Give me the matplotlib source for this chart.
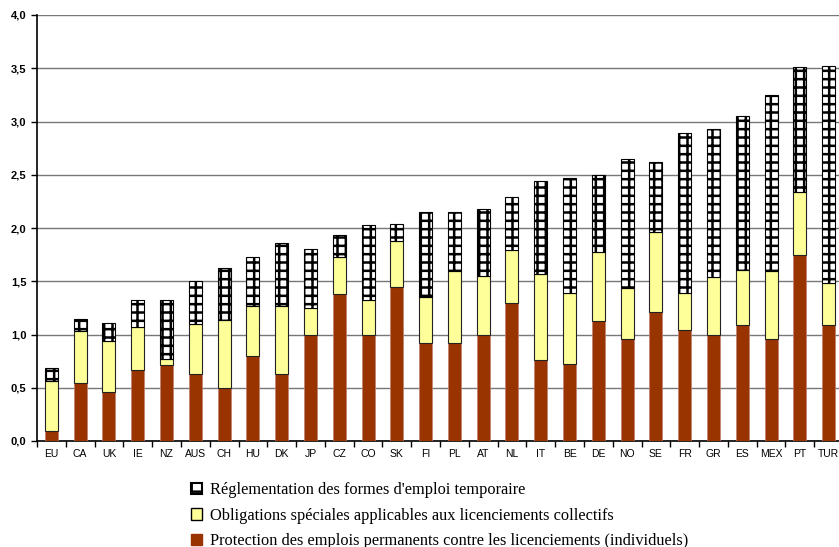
import numpy as np
import matplotlib
matplotlib.use("Agg")
import matplotlib.pyplot as plt
from matplotlib.patches import Patch
from matplotlib.ticker import FuncFormatter, MultipleLocator

# data
pays = ["EU", "CA", "UK", "IE", "NZ", "AUS", "CH", "HU", "DK", "JP", "CZ", "CO", "SK", "FI",
        "PL", "AT", "NL", "IT", "BE", "DE", "NO", "SE", "FR", "GR", "ES", "MEX", "PT", "TUR"]
# protection des emplois permanents (individuels)
permanents = [0.09, 0.54, 0.46, 0.67, 0.71, 0.63, 0.50, 0.80, 0.63, 1.00, 1.38, 1.00, 1.45, 0.92,
              0.92, 1.00, 1.30, 0.76, 0.72, 1.13, 0.96, 1.21, 1.04, 1.00, 1.09, 0.96, 1.75, 1.09]
# cumulative top of the collective-dismissal part
cumul_collectifs = [0.56, 1.03, 0.94, 1.07, 0.77, 1.10, 1.14, 1.27, 1.27, 1.25, 1.73, 1.32, 1.88, 1.35,
                    1.60, 1.55, 1.79, 1.57, 1.39, 1.77, 1.44, 1.96, 1.39, 1.54, 1.61, 1.60, 2.34, 1.48]
# total (top of the bar)
total = [0.69, 1.15, 1.11, 1.32, 1.32, 1.50, 1.62, 1.73, 1.86, 1.80, 1.93, 2.03, 2.04, 2.15,
         2.15, 2.18, 2.29, 2.44, 2.47, 2.50, 2.65, 2.62, 2.89, 2.93, 3.05, 3.25, 3.51, 3.52]

collectifs = np.array(cumul_collectifs) - np.array(permanents)
temporaire = np.array(total) - np.array(cumul_collectifs)

rouge = "#993300"
jaune = "#FFFF99"

plt.rcParams["hatch.linewidth"] = 1.8

fig = plt.figure(figsize=(8.39, 5.47), dpi=100)
ax = fig.add_axes([37/839, 106/547, 806/839, 426/547])

x = np.arange(len(pays))
w = 0.45
ax.bar(x, permanents, w, color=rouge, edgecolor="#c08070", linewidth=0.5, zorder=3)
ax.bar(x, collectifs, w, bottom=permanents, color=jaune, edgecolor="#222222", linewidth=0.8, zorder=3)
ax.bar(x, temporaire, w, bottom=cumul_collectifs, color="white", edgecolor="black",
       hatch="++", linewidth=0.8, zorder=3)

ax.set_xlim(-0.5, len(pays) - 0.5)
ax.set_ylim(0, 4.0)
ax.yaxis.set_major_locator(MultipleLocator(0.5))
ax.yaxis.set_major_formatter(FuncFormatter(lambda v, p: f"{v:.1f}".replace(".", ",")))
ax.grid(axis="y", color="#777777", linewidth=1.0, zorder=0)

ax.set_xticks(x)
ax.set_xticklabels(pays, fontsize=7.5, family="Liberation Sans")
ax.set_xticks(np.arange(len(pays) + 1) - 0.5, minor=True)
ax.tick_params(axis="x", which="major", length=0, pad=6)
ax.tick_params(axis="x", which="minor", length=4, direction="out", width=1)
ax.tick_params(axis="y", length=4, direction="out", width=1)
for lab in ax.get_yticklabels():
    lab.set_fontsize(8)
    lab.set_fontweight("bold")
    lab.set_family("Liberation Sans")

for s in ["top", "right"]:
    ax.spines[s].set_visible(False)
ax.spines["left"].set_linewidth(1.2)
ax.spines["bottom"].set_linewidth(1.2)

poignees = [Patch(facecolor="white", edgecolor="black", hatch="+", linewidth=1.5),
            Patch(facecolor=jaune, edgecolor="black", linewidth=1),
            Patch(facecolor=rouge, edgecolor=rouge)]
libelles = ["Réglementation des formes d'emploi temporaire",
            "Obligations spéciales applicables aux licenciements collectifs",
            "Protection des emplois permanents contre les licenciements (individuels)"]
fig.legend(poignees, libelles, loc="upper left", bbox_to_anchor=(191/839, 1 - 482/547),
           frameon=False, prop={"family": "Liberation Serif", "size": 11.8},
           handlelength=0.7, handleheight=0.7, handletextpad=0.45, labelspacing=0.58,
           borderaxespad=0, borderpad=0)

fig.savefig("out.png", dpi=100)
